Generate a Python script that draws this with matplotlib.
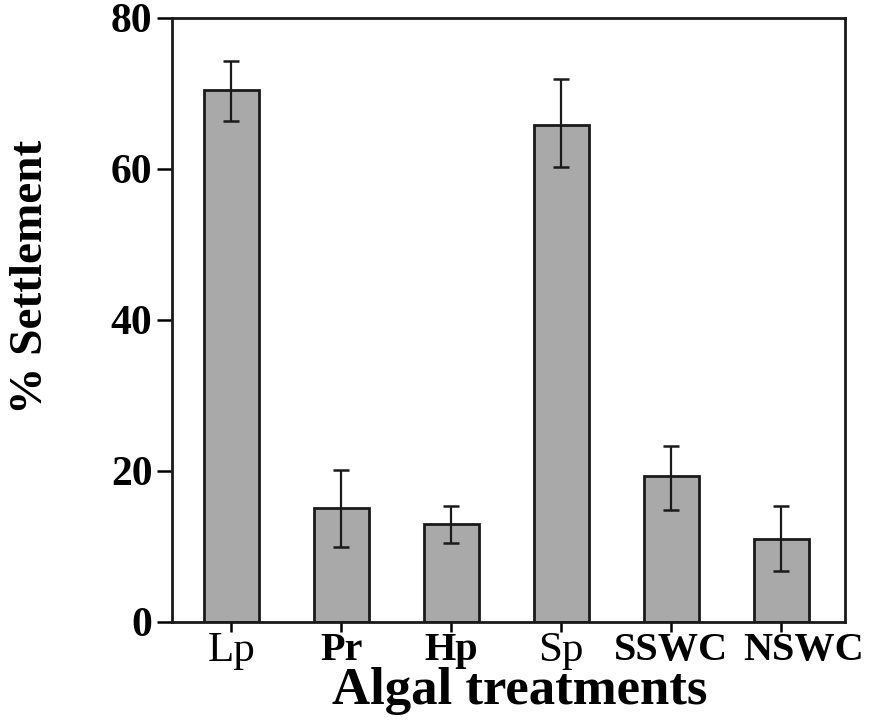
import numpy as np
import matplotlib
matplotlib.use("Agg")
import matplotlib.pyplot as plt
from matplotlib.transforms import ScaledTranslation

# values
treatments = ["Lp", "Pr", "Hp", "Sp", "SSWC", "NSWC"]
bold_labels = [False, True, True, False, True, True]
settlement = [70.5, 15.1, 13.0, 65.8, 19.3, 11.0]
err_low = [4.2, 5.1, 2.6, 5.5, 4.4, 4.2]
err_high = [3.8, 5.0, 2.3, 6.1, 4.0, 4.4]

plt.rcParams['font.family'] = ['Liberation Serif', 'DejaVu Serif']

fig = plt.figure(figsize=(8.71, 7.28), dpi=100)
ax = fig.add_axes([172/871, 1 - 622/728, 673/871, 604/728])

x = np.arange(len(treatments))
ax.bar(x, settlement, width=0.5, color='#a9a9a9', edgecolor='#1a1a1a',
       linewidth=2.0, zorder=2)
ax.errorbar(x, settlement, yerr=[err_low, err_high], fmt='none',
            ecolor='#1a1a1a', elinewidth=1.6, capsize=6, capthick=1.8, zorder=3)

ax.set_xlim(-0.54, 5.58)
ax.set_ylim(0, 80)
ax.set_yticks([0, 20, 40, 60, 80])
ax.set_xticks(x)
ax.set_xticklabels(treatments)

ax.tick_params(axis='y', direction='out', length=11, width=1.8, labelsize=30, pad=3)
ax.tick_params(axis='x', direction='out', length=7, width=1.8, pad=0)
for lab in ax.get_yticklabels():
    lab.set_fontweight('bold')

for lab, b in zip(ax.get_xticklabels(), bold_labels):
    if b:
        lab.set_fontweight('bold')
        lab.set_fontsize(29)
    else:
        lab.set_fontsize(31)
# the last label sits a bit to the right of its tick in the original
last = ax.get_xticklabels()[-1]
last.set_transform(last.get_transform() + ScaledTranslation(0.22, 0, fig.dpi_scale_trans))

for s in ax.spines.values():
    s.set_linewidth(2.0)
    s.set_color('#1a1a1a')

ax.set_ylabel("% Settlement", fontsize=34, fontweight='bold')
ax.yaxis.set_label_coords(-0.178, 0.571)
ax.set_xlabel("Algal treatments", fontsize=38, fontweight='bold')
ax.xaxis.set_label_coords(0.516, -0.074)

fig.savefig("out.png", dpi=100)
